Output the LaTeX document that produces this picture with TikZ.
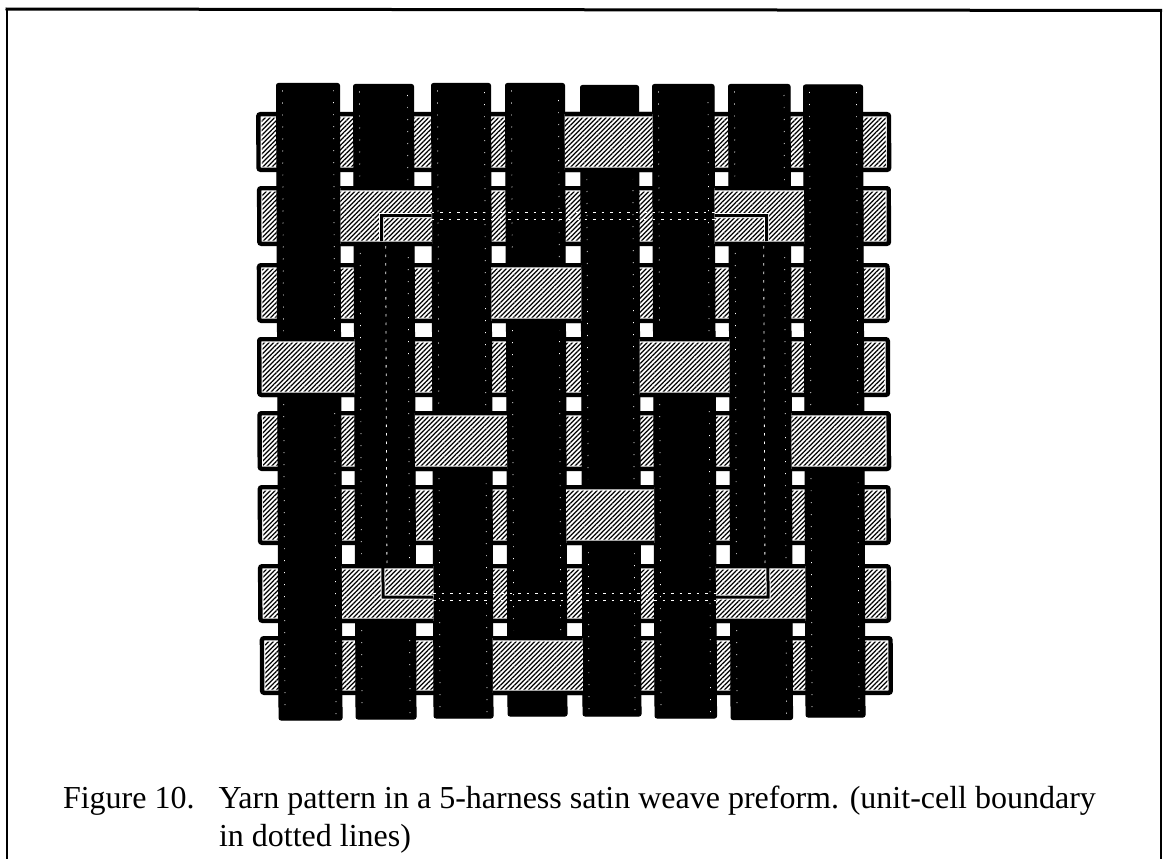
\documentclass[tikz,border=0pt]{standalone}
\usepackage{fontspec}
\setmainfont{Liberation Serif}
\usetikzlibrary{patterns.meta}
\tikzset{
  x=1pt,y=-1pt,
  rowborder/.style={draw=black,line width=4.4pt,rounded corners=2pt,fill=white},
  hatchfill/.style={pattern={Lines[angle=45,distance=3.3pt,line width=1.25pt]},pattern color=black},
  warp/.style={fill=black,draw=black,line width=1pt,rounded corners=2pt},
  speck/.style={draw=white,line width=0.7pt,dash pattern=on 1pt off 11pt},
  cellline/.style={draw=black,line width=3pt},
  cellgap/.style={draw=white,line width=5pt},
  cellhalo/.style={draw=white,line width=0.8pt,dash pattern=on 2.5pt off 6pt},
  framebox/.style={draw=black,line width=2pt},
  frametop/.style={draw=black,line width=3pt},
  captiontext/.style={font=\fontsize{32}{38}\selectfont,anchor=base west,inner sep=0pt,outer sep=0pt}
}
% #1 left, #2 right, #3 top, #4 bottom : one weft yarn
\newcommand{\weftyarn}[4]{%
  \path[rowborder] (#1+2.2,#3+2.2) rectangle (#2-2.2,#4-2.2);
  \path[hatchfill] (#1+5.5,#3+5.5) rectangle (#2-5.5,#4-5.5);
}
% the same weft yarn, shown only between x-values #5 and #6
\newcommand{\weftover}[6]{%
  \begin{scope}
    \clip (#5,#3-1) rectangle (#6,#4+1);
    \weftyarn{#1}{#2}{#3}{#4}
  \end{scope}
}
\newcommand{\specks}[4]{%
  \path[speck] (#1+6,#3+7) -- (#1+6,#4-6);
  \path[speck] (#2-6,#4-6) -- (#2-6,#3+7);
}
\begin{document}
\begin{tikzpicture}
\useasboundingbox (0,0) rectangle (1163,859);
\fill[white] (0,0) rectangle (1163,859);
\path[framebox] (6.5,9) -- (6.5,860);
\path[framebox] (1161,10) -- (1161,860);
\path[frametop] (5.5,9) -- (1162,10.5);
\begin{scope}[cm={1,0,-0.004,1,(-0.33,0)}]
  % weft yarns
  \weftyarn{256}{891}{112}{172}
  \weftyarn{256.5}{890.5}{186}{246}
  \weftyarn{256}{889}{263}{323}
  \weftyarn{256}{889}{337}{397}
  \weftyarn{256}{889.5}{411}{471}
  \weftyarn{256}{889}{485}{545}
  \weftyarn{256}{889}{564}{623}
  \weftyarn{257.5}{890.5}{636}{695}
  % warp yarns
  \path[warp] (276.5,83.5) rectangle (339.5,720);
  \path[warp] (353.5,84.5) rectangle (413.5,719);
  \path[warp] (431.5,83.5) rectangle (490.5,718);
  \path[warp] (505.5,83.5) rectangle (564.5,716);
  \path[warp] (580.5,85.5) rectangle (638.5,716);
  \path[warp] (652.5,84.5) rectangle (714,718);
  \path[warp] (728.5,84.5) rectangle (790,719.5);
  \path[warp] (803.5,85) rectangle (862.5,717);
  % floats of weft over warp
  \weftover{256}{891}{112}{172}{564.5}{652.5}
  \weftover{256.5}{890.5}{186}{246}{340}{431.5}
  \weftover{256.5}{890.5}{186}{246}{714}{803.5}
  \weftover{256}{889}{263}{323}{490.5}{580.5}
  \weftover{256}{889}{337}{397}{250}{353.5}
  \weftover{256}{889}{337}{397}{638.5}{728.5}
  \weftover{256}{889.5}{411}{471}{413.5}{505.5}
  \weftover{256}{889.5}{411}{471}{790}{895}
  \weftover{256}{889}{485}{545}{564.5}{652.5}
  \weftover{256}{889}{564}{623}{340}{431.5}
  \weftover{256}{889}{564}{623}{714}{803.5}
  \weftover{257.5}{890.5}{636}{695}{490.5}{580.5}
  % scan specks along warp edges
  \specks{276.5}{339.5}{83.5}{337} \specks{276.5}{339.5}{397}{720}
  \specks{353.5}{413.5}{84.5}{186} \specks{353.5}{413.5}{246}{564} \specks{353.5}{413.5}{623}{719}
  \specks{431.5}{490.5}{83.5}{411} \specks{431.5}{490.5}{471}{718}
  \specks{505.5}{564.5}{83.5}{263} \specks{505.5}{564.5}{323}{636}
  \specks{580.5}{638.5}{172}{485} \specks{580.5}{638.5}{545}{716}
  \specks{652.5}{714}{84.5}{337} \specks{652.5}{714}{397}{718}
  \specks{728.5}{790}{84.5}{186} \specks{728.5}{790}{246}{564} \specks{728.5}{790}{623}{719.5}
  \specks{803.5}{862.5}{85}{411} \specks{803.5}{862.5}{471}{717}
  % unit-cell boundary: white gap on the hatched floats, black line over it
  \begin{scope}
    \clip (340,190) rectangle (431,241) (714,190) rectangle (803,241)
          (340,569) rectangle (431,618) (714,569) rectangle (803,618);
    \path[cellgap] (381,250) -- (381,215.5) -- (440,215.5);
    \path[cellgap] (705,215.5) -- (766,215.5) -- (766,250);
    \path[cellgap] (381,560) -- (381,597) -- (440,597);
    \path[cellgap] (705,597) -- (766,597) -- (766,560);
  \end{scope}
  \path[cellline] (381,241) -- (381,215.5) -- (431,215.5);
  \path[cellline] (714,215.5) -- (766,215.5) -- (766,241);
  \path[cellline] (381,568) -- (381,597) -- (431,597);
  \path[cellline] (714,597) -- (766,597) -- (766,568);
  \path[cellhalo] (431,212) -- (714,212);
  \path[cellhalo] (431,219) -- (714,219);
  \path[cellhalo] (431,593.5) -- (714,593.5);
  \path[cellhalo] (431,600.5) -- (714,600.5);
  \path[cellhalo] (385,246) -- (385,564);
  \path[cellhalo] (763,246) -- (763,564);
\end{scope}
\node[captiontext] (capa) at (63,808) {Figure 10.\hspace{0.75em}Yarn pattern in a 5-harness satin weave preform. (unit-cell boundary};
\node[captiontext] (capb) at (219,846) {in dotted lines)};
\end{tikzpicture}
\end{document}
